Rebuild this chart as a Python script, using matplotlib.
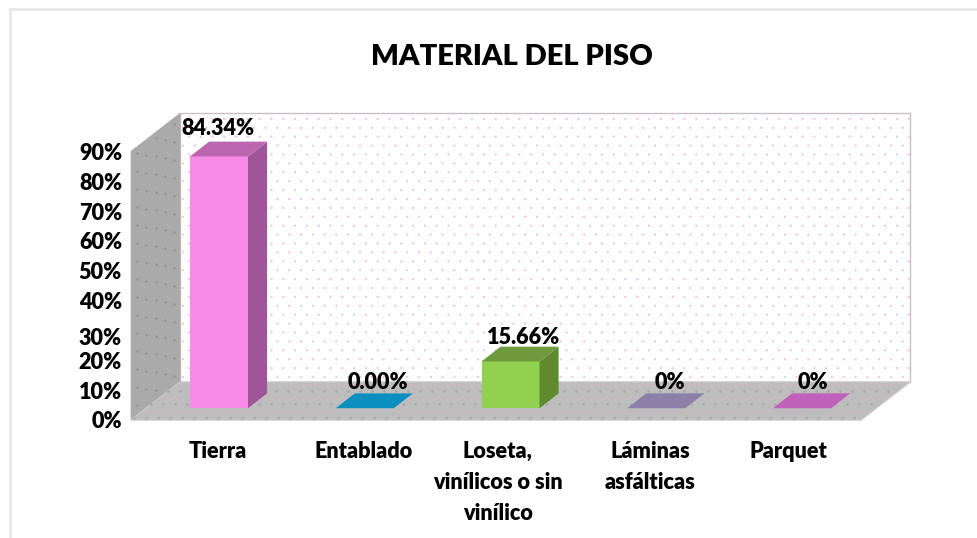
import numpy as np
import matplotlib
matplotlib.use("Agg")
import matplotlib.pyplot as plt
from matplotlib.patches import Polygon

categorias = ["Tierra", "Entablado", "Loseta,\nvinílicos o sin\nvinílico", "Láminas\nasfálticas", "Parquet"]
valores = [84.34, 0.0, 15.66, 0.0, 0.0]
etiquetas = ["84.34%", "0.00%", "15.66%", "0%", "0%"]
ticks = [0, 10, 20, 30, 40, 50, 60, 70, 80, 90]
frente = ["#f98be8", "#0a8fc0", "#92d050", "#8c7fa8", "#c060b8"]
lado = ["#a05598", "#0a6f98", "#5f8a30", "#6c6088", "#a05098"]
arriba = ["#bc66b0", "#0a8fc0", "#6f9a3c", "#8c7fa8", "#c060b8"]

plt.rcParams["font.family"] = ["Lato", "DejaVu Sans"]
fig = plt.figure(figsize=(9.78, 5.38), dpi=100)
ax = fig.add_axes([0, 0, 1, 1])
ax.set_xlim(0, 978)
ax.set_ylim(538, 0)
ax.axis("off")

# oblique projection: value -> pixel
y0 = 420
esc = 2.985
dx, dy = 49, -38
xa, xb = 131, 861


def py(v):
    return y0 - esc * v


def caja(x0, x1, v, d0, d1):
    # corners of a box: front face at depth d0, back at d1
    yb = py(0) + d0 * dy
    yt = py(v) + d0 * dy
    ox0, ox1 = d0 * dx, d1 * dx
    f = [(x0 + ox0, yb), (x1 + ox0, yb), (x1 + ox0, yt), (x0 + ox0, yt)]
    r = [(x1 + ox0, yb), (x1 + ox1, py(0) + d1 * dy), (x1 + ox1, py(v) + d1 * dy), (x1 + ox0, yt)]
    t = [(x0 + ox0, yt), (x1 + ox0, yt), (x1 + ox1, py(v) + d1 * dy), (x0 + ox1, py(v) + d1 * dy)]
    return f, r, t


# frame of the picture
ax.plot([10, 10, 978], [538, 9, 9], color="#e8e8e8", lw=2)

# walls and floor
vmax = 90
back = [(xa + dx, y0 + dy), (xb + dx, y0 + dy), (xb + dx, py(vmax) + dy), (xa + dx, py(vmax) + dy)]
left = [(xa, y0), (xa + dx, y0 + dy), (xa + dx, py(vmax) + dy), (xa, py(vmax))]
floor = [(xa, y0), (xb, y0), (xb + dx, y0 + dy), (xa + dx, y0 + dy)]
ax.add_patch(Polygon(back, fc="white", ec="#c8c0c4", lw=1))
ax.add_patch(Polygon(left, fc="#aaaaaa", ec="#aaaaaa", lw=0.5))
ax.add_patch(Polygon(floor, fc="#bdbdbd", ec="#c8c8c8", lw=1))

# dotted texture on the back wall
paso = 11.8
for k, yy in enumerate(np.arange(y0 + dy - 5, py(vmax) + dy, -8.9)):
    xs = np.arange(xa + dx + 3 + (k % 2) * paso / 2, xb + dx, paso)
    col = ["#f8c6e4" if (j + k) % 3 else "#dcd4da" for j in range(len(xs))]
    ax.scatter(xs, np.full(len(xs), yy), s=3, color=col, lw=0, zorder=2)

# dotted texture on the floor
for k, d in enumerate(np.linspace(0.06, 0.94, 6)):
    xs = np.arange(xa + d * dx + (k % 2) * 6, xb + d * dx, 12)
    ax.scatter(xs, np.full(len(xs), y0 + d * dy), s=3, color="#d2b4c6" if k % 2 else "#a8a2a6", lw=0, zorder=2)

# dotted texture on the left wall
for k, d in enumerate(np.linspace(0.12, 0.88, 5)):
    yy = np.arange(py(vmax) + 6 + (k % 2) * 9, y0 - 4, 18)
    ax.scatter(np.full(len(yy), xa + d * dx), yy + d * dy, s=3, color="#968c92", lw=0, zorder=2)

# bars
ancho = 58
paso_x = 145.75
d0, d1 = 0.31, 0.70
# the labels in the original were moved by hand, so each has its own shift
shift_valor = [(-1, -28), (13, -26), (13, -24), (14, -26), (11, -26)]
shift_cat = [-1, -1, -13, -6, -14]
for i, v in enumerate(valores):
    x0 = xa + 59 - d0 * dx + i * paso_x
    f, r, t = caja(x0, x0 + ancho, v, d0, d1)
    ax.add_patch(Polygon(f, fc=frente[i], ec="none", zorder=3))
    ax.add_patch(Polygon(r, fc=lado[i], ec="none", zorder=3))
    ax.add_patch(Polygon(t, fc=arriba[i], ec="none", zorder=3))
    cx = x0 + d0 * dx + ancho / 2
    ax.text(cx + shift_valor[i][0], py(v) + d0 * dy + shift_valor[i][1], etiquetas[i], ha="center", va="center",
            fontsize=15.6, fontweight="heavy", color="black", zorder=5)
    ax.text(cx + shift_cat[i], 441, categorias[i], ha="center", va="top",
            fontsize=15.6, fontweight="heavy", color="black", linespacing=1.6, zorder=5)

# value axis labels
for t in ticks:
    off = 8 if t == 30 else 2
    ax.text(122, py(t) + off, f"{t}%", ha="right", va="center", fontsize=15.6, fontweight="heavy", color="black")

ax.text(512, 57, "MATERIAL DEL PISO", ha="center", va="center", fontsize=21, fontweight="heavy", color="black")

fig.savefig("out.png", dpi=100)
